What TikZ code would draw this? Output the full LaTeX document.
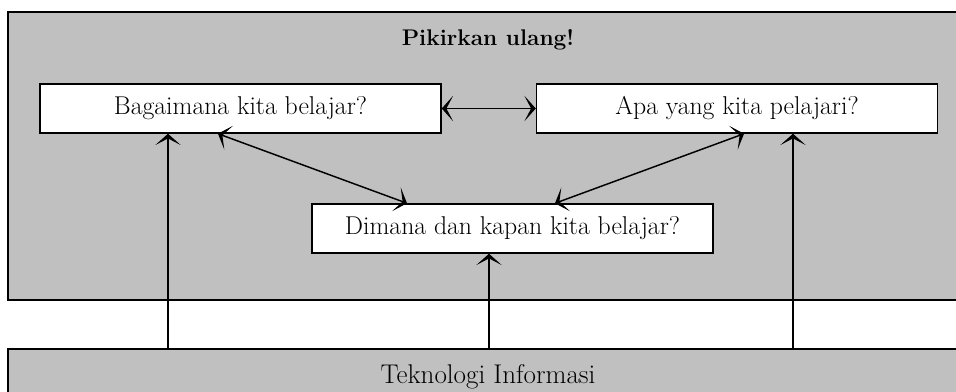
\documentclass[tikz,border=0pt]{standalone}
\usetikzlibrary{arrows.meta}
\definecolor{panel}{RGB}{192,192,192}
\begin{document}
\begin{tikzpicture}[x=0.75pt,y=-0.75pt,
  >={Stealth[length=8.5pt,width=19pt,inset=5pt]},
  tip/.style={line width=1.1pt,->},
  tips/.style={line width=1.1pt,<->},
  graybox/.style={draw,line width=1.1pt,fill=panel,inner sep=0pt},
  whitebox/.style={draw,line width=1.1pt,fill=white,inner sep=0pt,
    minimum width=300.75pt,minimum height=36.75pt,font=\fontsize{19.3}{22}\selectfont},
  title/.style={font=\fontsize{17}{20}\selectfont\bfseries,inner sep=0pt}]
\useasboundingbox (0,0) rectangle (956,392);
\node[graybox,minimum width=720pt,minimum height=216pt] (think) at (488,156) {};
\node[title] (head) at (488,40) {Pikirkan ulang!};
\node[graybox,minimum width=720pt,minimum height=42pt,
  font=\fontsize{20.3}{23}\selectfont] (it) at (488,377) {Teknologi Informasi};
\node[whitebox] (b1) at (240.5,108.5) {Bagaimana kita belajar?};
\node[whitebox] (b2) at (737,108.5) {Apa yang kita pelajari?};
\node[whitebox] (b3) at (512.5,228.5) {Dimana dan kapan kita belajar?};
\coordinate (x1) at (168,0);
\coordinate (x2) at (793,0);
\coordinate (x3) at (489,0);
\coordinate (d1) at (218,0);
\coordinate (d2) at (407,0);
\coordinate (d3) at (555,0);
\coordinate (d4) at (744,0);
\draw[tips] (b1.east) -- (b2.west);
\draw[tip] (it.north -| x1) -- (b1.south -| x1);
\draw[tip] (it.north -| x2) -- (b2.south -| x2);
\draw[tip] (it.north -| x3) -- (b3.south -| x3);
\draw[tips] (b1.south -| d1) -- (b3.north -| d2);
\draw[tips] (b3.north -| d3) -- (b2.south -| d4);
\end{tikzpicture}
\end{document}
